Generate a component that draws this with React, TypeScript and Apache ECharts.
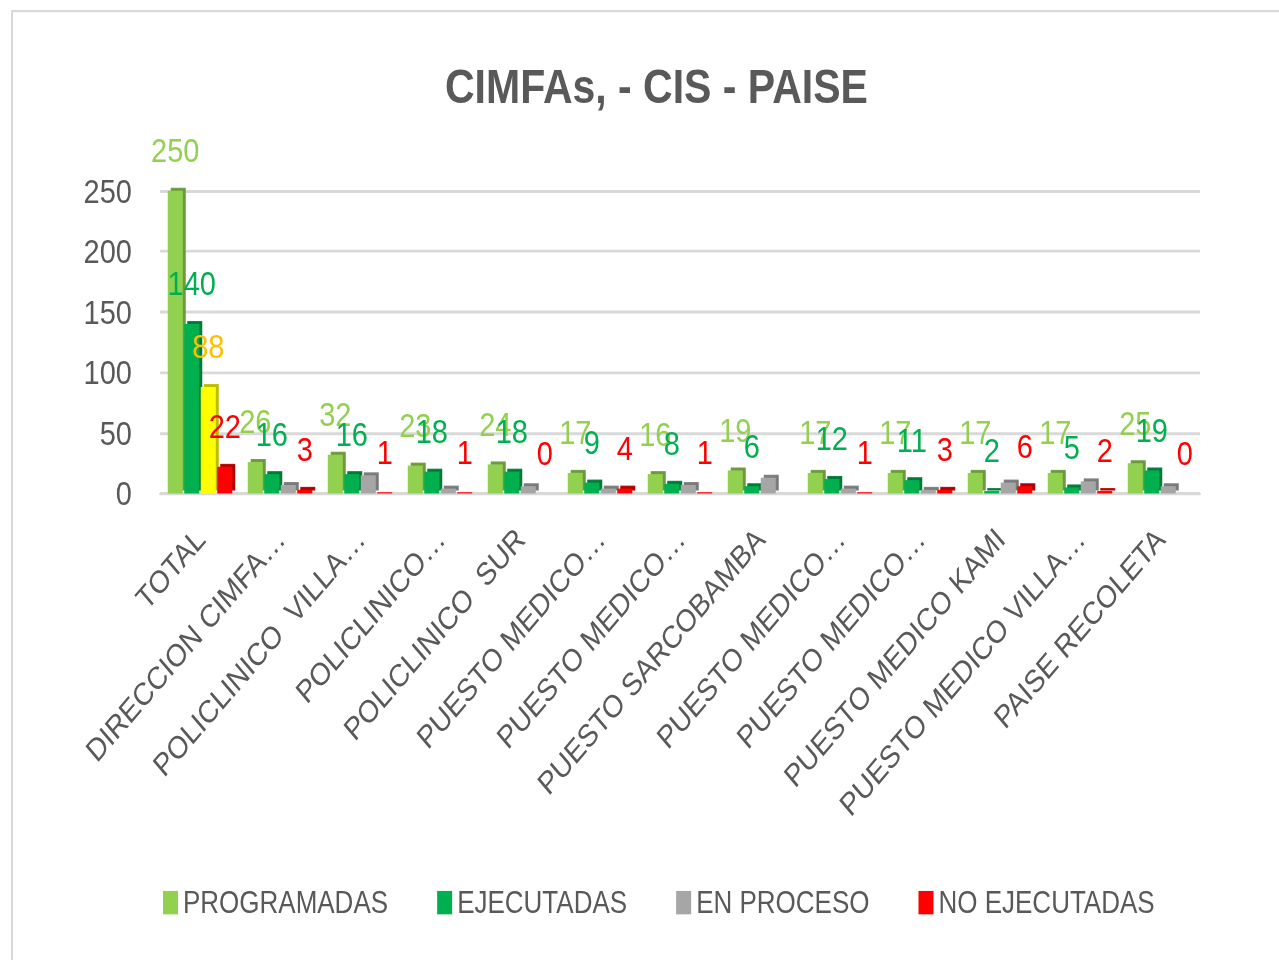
import React, { useEffect, useRef } from "react";
import * as echarts from "echarts";

const categories = [
  "TOTAL",
  "DIRECCION CIMFA…",
  "POLICLINICO  VILLA…",
  "POLICLINICO…",
  "POLICLINICO  SUR",
  "PUESTO MEDICO…",
  "PUESTO MEDICO…",
  "PUESTO SARCOBAMBA",
  "PUESTO MEDICO…",
  "PUESTO MEDICO…",
  "PUESTO MEDICO KAMI",
  "PUESTO MEDICO VILLA…",
  "PAISE RECOLETA",
];
const programadas = [250, 26, 32, 23, 24, 17, 16, 19, 17, 17, 17, 17, 25];
const ejecutadas = [140, 16, 16, 18, 18, 9, 8, 6, 12, 11, 2, 5, 19];
const enProceso = [88, 7, 15, 4, 6, 4, 7, 13, 4, 3, 9, 10, 6];
const noEjecutadas = [22, 3, 1, 1, 0, 4, 1, 0, 1, 3, 6, 2, 0];
const yTicks = [0, 50, 100, 150, 200, 250];

const FONT = "'Liberation Sans', Arial, sans-serif";
const TXT = "#595959";
// the reference picture is vertically stretched; draw at H and stretch to 960
const H = 820;
const S = 960 / H;

export default function App() {
  const ref = useRef<HTMLDivElement>(null);
  useEffect(() => {
    document.body.style.margin = "0";
    const chart = echarts.init(ref.current!, null, { renderer: "svg" });
    const labelBase = (color: string) => ({
      show: true,
      position: "top" as const,
      distance: 20,
      color,
      fontSize: 29,
      fontFamily: FONT,
    });
    const shadow = (side: string) => ({
      shadowColor: side,
      shadowBlur: 0,
      shadowOffsetX: 3,
      shadowOffsetY: -2.5,
    });
    chart.setOption({
      animation: false,
      backgroundColor: "#ffffff",
      textStyle: { fontFamily: FONT },
      title: {
        text: "CIMFAs, - CIS - PAISE",
        left: 440,
        top: 48,
        textStyle: { fontFamily: FONT, fontSize: 41, fontWeight: "bold", color: TXT },
      },
      graphic: [
        {
          type: "rect",
          shape: { x: 12, y: 9.5, width: 1300, height: 1000 },
          style: { fill: "none", stroke: "#d9d9d9", lineWidth: 2 },
          silent: true,
        },
      ],
      legend: {
        left: 158,
        top: 753,
        icon: "rect",
        itemWidth: 15,
        itemHeight: 20,
        itemGap: 49,
        textStyle: { color: TXT, fontSize: 26, fontFamily: FONT },
        data: ["PROGRAMADAS", "EJECUTADAS", "EN PROCESO", "NO EJECUTADAS"],
      },
      grid: { left: 160, right: 79, top: 163, bottom: H - 421.5, containLabel: false },
      xAxis: {
        type: "category",
        data: categories,
        axisLine: { lineStyle: { color: "#d9d9d9", width: 2 } },
        axisTick: { show: false },
        axisLabel: {
          interval: 0,
          rotate: 45,
          margin: 34,
          color: TXT,
          fontSize: 27,
          fontFamily: FONT,
        },
      },
      yAxis: {
        type: "value",
        min: yTicks[0],
        max: yTicks[yTicks.length - 1],
        interval: 50,
        axisLine: { show: false },
        axisTick: { show: false },
        splitLine: { lineStyle: { color: "#d9d9d9", width: 2.5 } },
        axisLabel: { color: TXT, fontSize: 29, fontFamily: FONT, margin: 28 },
      },
      series: [
        {
          name: "PROGRAMADAS",
          type: "bar",
          barWidth: 15,
          barGap: "10%",
          data: programadas,
          itemStyle: { color: "#92D050", ...shadow("#6B9A3A") },
          label: labelBase("#92D050"),
        },
        {
          name: "EJECUTADAS",
          type: "bar",
          barWidth: 15,
          barGap: "10%",
          data: ejecutadas,
          itemStyle: { color: "#00B050", ...shadow("#007A37") },
          label: labelBase("#00B050"),
        },
        {
          name: "EN PROCESO",
          type: "bar",
          barWidth: 15,
          barGap: "10%",
          data: enProceso.map((v, i) =>
            i === 0
              ? {
                  value: v,
                  itemStyle: { color: "#FFFF00", ...shadow("#BDBD00") },
                  label: labelBase("#FFC000"),
                }
              : { value: v }
          ),
          itemStyle: { color: "#A6A6A6", ...shadow("#7A7A7A") },
          label: { show: false },
        },
        {
          name: "NO EJECUTADAS",
          type: "bar",
          barWidth: 15,
          barGap: "10%",
          data: noEjecutadas.map((v, i) =>
            i === 7 ? { value: v, label: { show: false } } : { value: v }
          ),
          itemStyle: { color: "#FF0000", ...shadow("#B00000") },
          label: labelBase("#FF0000"),
        },
      ],
    });
    return () => chart.dispose();
  }, []);
  return (
    <div style={{ width: 1279, height: 960, overflow: "hidden" }}>
      <div
        ref={ref}
        style={{
          width: 1279,
          height: H,
          transform: `scaleY(${S})`,
          transformOrigin: "0 0",
        }}
      />
    </div>
  );
}
